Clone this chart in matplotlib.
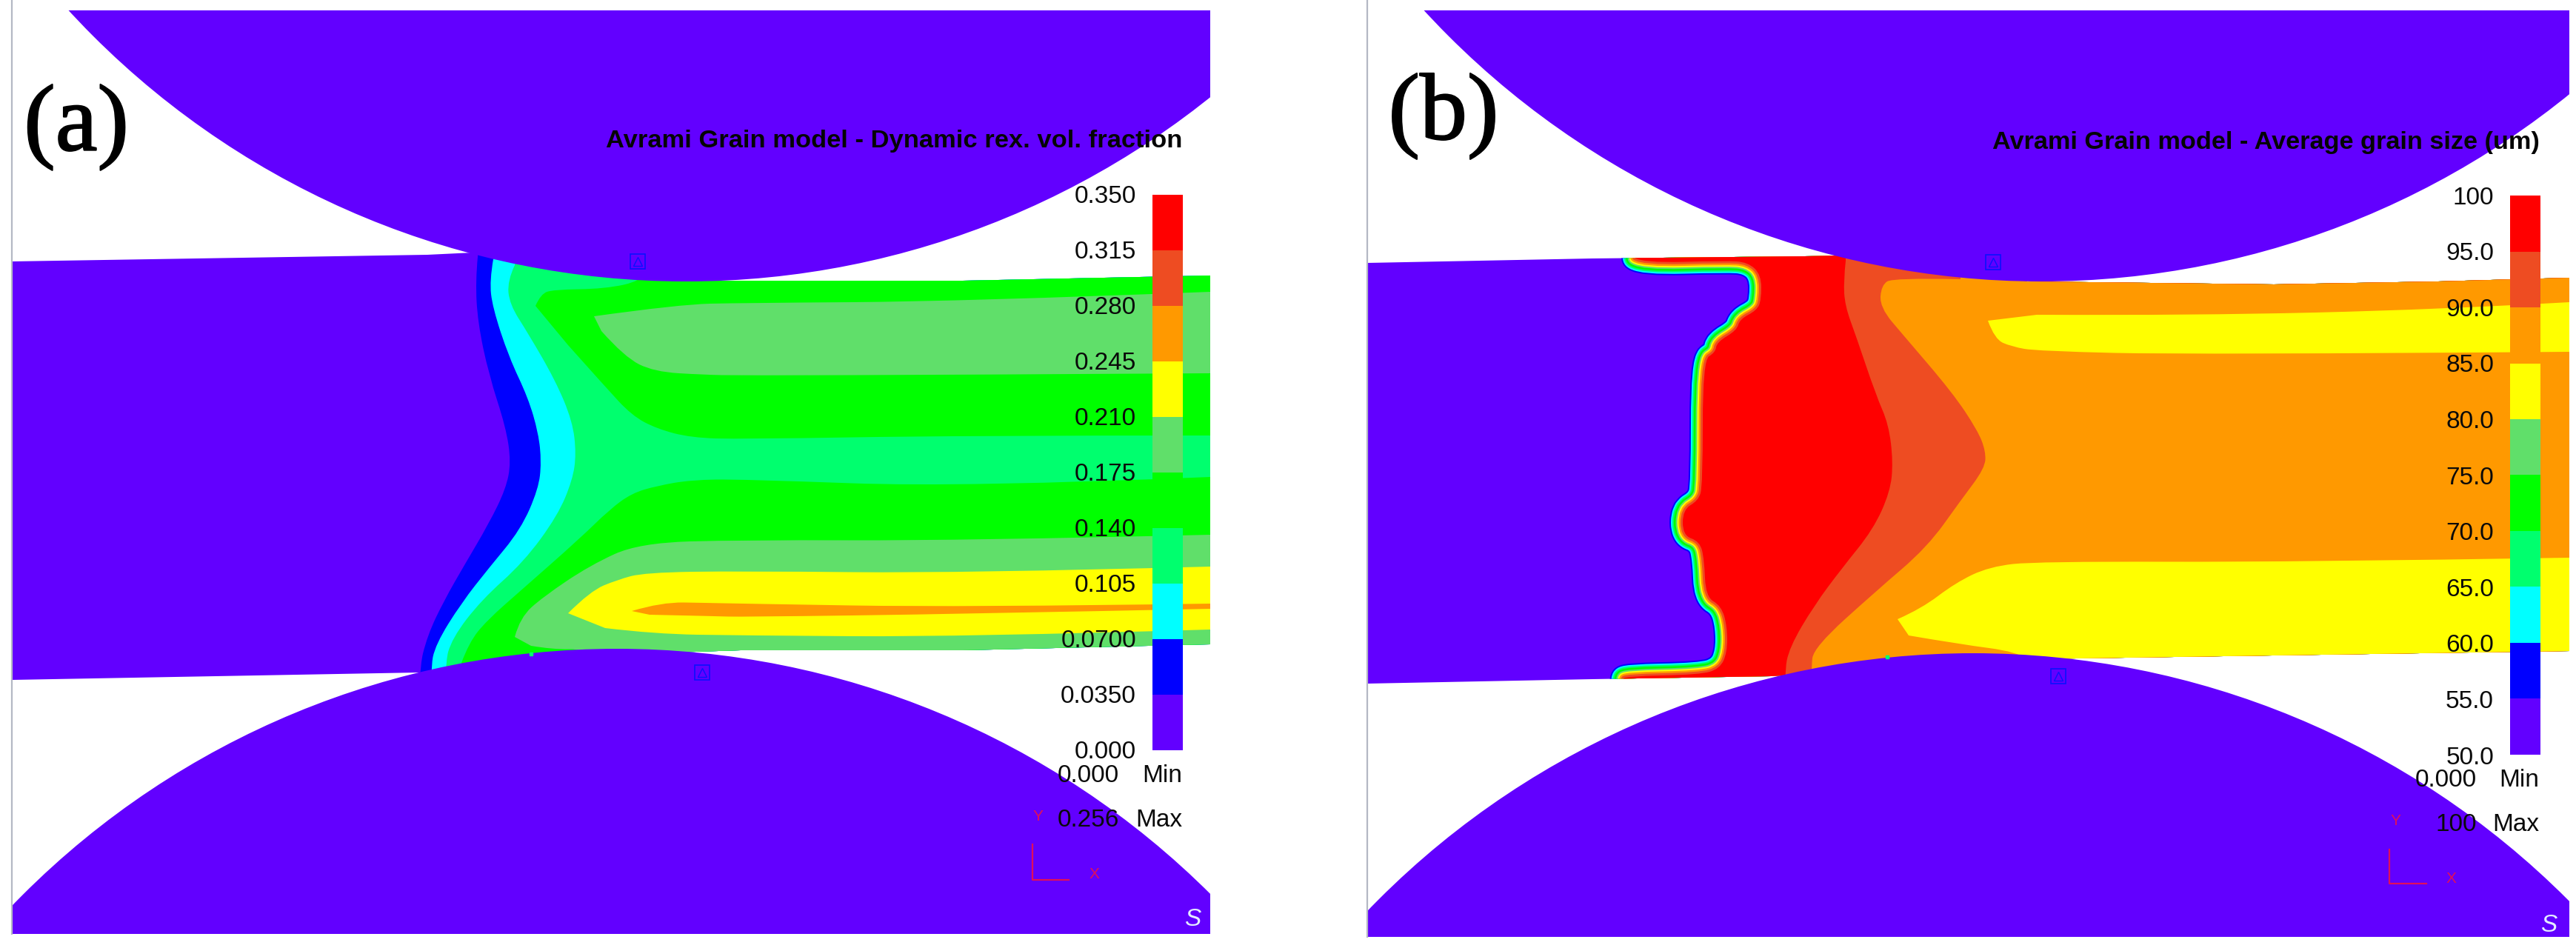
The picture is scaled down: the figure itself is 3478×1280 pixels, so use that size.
import matplotlib

matplotlib.use("Agg")
import matplotlib.patheffects as pe
import matplotlib.pyplot as plt
from matplotlib.patches import Circle, PathPatch, Polygon, Rectangle
from matplotlib.path import Path

# contour levels
LABELS_A = ["0.000", "0.0350", "0.0700", "0.105", "0.140", "0.175", "0.210", "0.245", "0.280", "0.315", "0.350"]
LABELS_B = ["50.0", "55.0", "60.0", "65.0", "70.0", "75.0", "80.0", "85.0", "90.0", "95.0", "100"]
MINMAX_A = ["0.000", "0.256"]
MINMAX_B = ["0.000", "100"]
TITLE_A = "Avrami Grain model - Dynamic rex. vol. fraction"
TITLE_B = "Avrami Grain model - Average grain size (um)"

PURPLE = "#6200ff"
BLUE = "#0000ff"
CYAN = "#00ffff"
SPRING = "#00ff6e"
GREEN = "#00ff00"
LIGHT = "#60df6a"
YELLOW = "#ffff00"
ORANGE = "#ff9900"
TOMATO = "#ee4c22"
RED = "#ff0000"
LEVEL_COLORS = [PURPLE, BLUE, CYAN, SPRING, GREEN, LIGHT, YELLOW, ORANGE, TOMATO, RED]

# outlines, in image pixels
STRIP_A = [(16, 353), (577, 344), (660, 340), (800, 350), (900, 379), (1300, 379), (1634, 372),
           (1634, 870), (1300, 878), (1000, 878), (790, 885), (650, 910), (566, 908), (16, 918)]
BLUE_A = [(645, 347), (642, 379), (645, 435), (660, 506), (683, 577), (690, 624), (683, 660),
          (660, 707), (627, 763), (600, 810), (577, 858), (565, 907)]
CYAN_A = [(666, 350), (661, 379), (665, 415), (687, 482), (713, 537), (727, 585), (731, 624),
          (727, 660), (703, 715), (660, 767), (623, 814), (588, 870), (581, 904)]
SPRING_A = [(695, 358), (685, 379), (688, 411), (713, 450), (750, 514), (773, 569), (778, 613),
            (773, 648), (753, 696), (707, 759), (650, 810), (610, 862), (600, 899)]
GREEN_UP_A = [(723, 413), (730, 397), (747, 391), (817, 390), (867, 379), (867, 360), (1634, 360),
              (1634, 588), (1300, 588), (1000, 593), (933, 591), (887, 579), (853, 561), (817, 522),
              (767, 466)]
GREEN_LOW_A = [(623, 895), (633, 868), (657, 838), (707, 794), (783, 727), (823, 688), (853, 666),
               (887, 656), (933, 648), (1000, 647), (1300, 658), (1634, 644), (1634, 900), (623, 900)]
LIGHT_UP_A = [(802, 427), (917, 411), (1000, 409), (1300, 407), (1634, 394), (1634, 504), (1300, 506),
              (1000, 507), (950, 506), (883, 502), (843, 482), (812, 447)]
LIGHT_LOW_A = [(695, 860), (702, 834), (733, 806), (797, 763), (863, 733), (1000, 729), (1300, 730),
               (1634, 722), (1634, 900), (790, 900), (790, 876), (747, 877), (717, 872)]
YELLOW_A = [(767, 828), (797, 798), (833, 783), (870, 773), (1000, 771), (1300, 774), (1634, 765),
            (1634, 850), (1300, 860), (1000, 858), (883, 856), (817, 848)]
ORANGE_A = [(853, 825), (893, 813), (953, 814), (1000, 815), (1300, 820), (1634, 815),
            (1634, 822), (1300, 829), (1000, 833), (967, 832), (877, 830)]

STRIP_B = [(1846, 355), (2150, 349), (2437, 346), (2487, 345), (2640, 360), (2737, 380), (3070, 384),
           (3292, 380), (3469, 375), (3469, 879), (3200, 883), (2737, 890), (2600, 900), (2391, 913),
           (2150, 917), (1846, 923)]
RED_B = [(2207, 348), (2217, 355), (2330, 352), (2360, 354), (2378, 371), (2378, 405), (2372, 419),
         (2349, 431), (2345, 446), (2318, 462), (2316, 476), (2299, 486), (2299, 656), (2293, 676),
         (2272, 688), (2272, 723), (2295, 731), (2301, 755), (2303, 806), (2324, 818), (2332, 846),
         (2332, 881), (2322, 903), (2295, 911), (2194, 913), (2190, 919)]
TOMATO_B = [(2492, 352), (2489, 379), (2491, 413), (2506, 454), (2533, 534), (2550, 573), (2556, 624),
            (2552, 664), (2529, 715), (2487, 767), (2449, 818), (2416, 874), (2409, 909)]
ORANGE_B = [(2647, 377), (2556, 375), (2540, 385), (2538, 415), (2571, 454), (2636, 530), (2670, 581),
            (2681, 609), (2680, 632), (2647, 676), (2602, 739), (2533, 798), (2449, 874), (2445, 903)]
YELLOW_UP_B = [(2684, 433), (2693, 458), (2716, 468), (2750, 474), (2959, 479), (3469, 475),
               (3469, 408), (3292, 418), (2959, 426), (2750, 425)]
YELLOW_LOW_B = [(2562, 836), (2594, 822), (2640, 787), (2686, 765), (2750, 758), (3100, 759), (3469, 753),
                (3469, 900), (2750, 900), (2724, 880), (2647, 870), (2577, 858)]
# bands hugging the recrystallisation front, cold side first, half widths in px
FRONT_COLORS = [BLUE, CYAN, SPRING, GREEN, LIGHT, YELLOW, ORANGE, TOMATO]
FRONT_OFFSETS = [18, 16, 14, 12, 9.5, 7.5, 5.5, 3]

MARKERS_A = [(861, 353), (948, 908)]
MARKERS_B = [(2691, 354), (2779, 913)]
DOTS = [(717, 883), (2548, 887)]

ROLL_A = {"top": (926, -752, 1132), "bottom": (833, 2011, 1135), "frame": (16, 14, 1618, 1247)}
ROLL_B = {"top": (2756, -752, 1132), "bottom": (2664, 2017, 1135), "frame": (1846, 14, 1623, 1251)}

SANS = "Liberation Sans"
SERIF = "Liberation Serif"
AXIS_RED = "#e0105a"
EDGE_XS = (1634, 1640, 3469, 3480)
EDGE_YS = (300, 1000)


def is_corner(point):
    return point[0] in EDGE_XS or point[1] in EDGE_YS


def smooth_path(points):
    """Round an outline with quadratic curves, keeping its ends and the panel-edge corners."""
    verts = [points[0]]
    codes = [Path.MOVETO]
    last = len(points) - 1
    for i in range(1, last):
        p = points[i]
        nxt = points[i + 1]
        if is_corner(p):
            verts.append(p)
            codes.append(Path.LINETO)
            continue
        end = nxt if is_corner(nxt) or i == last - 1 else ((p[0] + nxt[0]) / 2, (p[1] + nxt[1]) / 2)
        verts += [p, end]
        codes += [Path.CURVE3, Path.CURVE3]
    verts += [points[last], points[0]]
    codes += [Path.LINETO, Path.CLOSEPOLY]
    return Path(verts, codes)


def hot_side(boundary, right):
    first_x = boundary[0][0]
    last_x = boundary[-1][0]
    return boundary + [(last_x, 1000), (right, 1000), (right, 300), (first_x, 300)]


def draw_layers(ax, strip_patch, layers):
    for points, color in layers:
        patch = PathPatch(smooth_path(points), facecolor=color, edgecolor="none", zorder=2)
        ax.add_patch(patch)
        patch.set_clip_path(strip_patch)


def draw_rolls(ax, roll):
    fx, fy, fw, fh = roll["frame"]
    for key in ("top", "bottom"):
        cx, cy, radius = roll[key]
        circle = Circle((cx, cy), radius, facecolor=PURPLE, edgecolor="none", zorder=3)
        ax.add_patch(circle)
        circle.set_clip_path(Rectangle((fx, fy), fw, fh, transform=ax.transData))
    ax.plot([fx, fx], [0, fy + fh], color="#b4b8c4", lw=1.6, zorder=4)


def draw_colorbar(ax, x0, x1, y_top, y_bottom):
    step = (y_bottom - y_top) / len(LEVEL_COLORS)
    for i, color in enumerate(LEVEL_COLORS):
        ax.bar((x0 + x1) / 2, step + 0.5, width=x1 - x0, bottom=y_bottom - (i + 1) * step,
               color=color, linewidth=0, zorder=5)


def draw_annotations(ax, labels, minmax, title, opts):
    n = len(labels) - 1
    for i, label in enumerate(labels):
        y = opts["y0"] + (opts["y1"] - opts["y0"]) * i / n
        ax.text(opts["label_x"], y, label, ha="right", va="center", family=SANS, fontsize=24,
                color="#0a0a0a", zorder=6)
    ax.text(opts["title_x"], opts["title_y"], title, ha="right", va="center", family=SANS,
            fontweight="bold", fontsize=opts["title_size"], color="#050505", zorder=6)
    for value, word, y in zip(minmax, ["Min", "Max"], opts["minmax_y"]):
        ax.text(opts["minmax_x"], y, value, ha="right", va="center", family=SANS, fontsize=24,
                color="#0a0a0a", zorder=6)
        ax.text(opts["word_x"], y, word, ha="right", va="center", family=SANS, fontsize=24,
                color="#0a0a0a", zorder=6)
    lx, ly0, ly1, lx1 = opts["triad"]
    ax.plot([lx, lx, lx1], [ly0, ly1, ly1], color=AXIS_RED, lw=1.6, zorder=6)
    ax.text(*opts["y_mark"], "Y", ha="center", va="center", family=SANS, fontsize=15, color=AXIS_RED, zorder=6)
    ax.text(*opts["x_mark"], "X", ha="center", va="center", family=SANS, fontsize=15, color=AXIS_RED, zorder=6)
    ax.text(*opts["logo"], "S", ha="center", va="center", family=SANS, fontsize=24, style="italic",
            color="#e4ecff", zorder=6)
    letter = ax.text(*opts["letter"][:2], opts["letter"][2], ha="center", va="center", family=SERIF, fontsize=92,
                     color="black", zorder=6)
    letter.set_path_effects([pe.withStroke(linewidth=1.5, foreground="black")])


def draw_markers(ax, points):
    xs = [p[0] for p in points]
    ys = [p[1] for p in points]
    ax.plot(xs, ys, ls="", marker="s", ms=14, mfc="none", mec="#0a10ff", mew=1.2, zorder=5)
    ax.plot(xs, ys, ls="", marker="^", ms=9, mfc="none", mec="#0a10ff", mew=1.0, zorder=5)


def main():
    fig = plt.figure(figsize=(34.78, 12.8), dpi=100, facecolor="white")
    ax = fig.add_axes([0, 0, 1, 1])
    ax.set_xlim(0, 3478)
    ax.set_ylim(1280, 0)
    ax.axis("off")

    # panel (a)
    strip_a = Polygon(STRIP_A, closed=True, facecolor=PURPLE, edgecolor="none", zorder=1)
    ax.add_patch(strip_a)
    draw_layers(ax, strip_a, [
        (hot_side(BLUE_A, 1640), BLUE),
        (hot_side(CYAN_A, 1640), CYAN),
        (hot_side(SPRING_A, 1640), SPRING),
        (GREEN_UP_A, GREEN),
        (GREEN_LOW_A, GREEN),
        (LIGHT_UP_A, LIGHT),
        (LIGHT_LOW_A, LIGHT),
        (YELLOW_A, YELLOW),
        (ORANGE_A, ORANGE),
    ])
    draw_rolls(ax, ROLL_A)
    draw_colorbar(ax, 1556, 1597, 263, 1012)
    draw_markers(ax, MARKERS_A)
    draw_annotations(ax, LABELS_A, MINMAX_A, TITLE_A, {
        "y0": 1016, "y1": 265, "label_x": 1534, "title_x": 1596, "title_y": 191, "title_size": 24.8,
        "minmax_x": 1511, "word_x": 1596, "minmax_y": [1047, 1107], "triad": (1394, 1140, 1188, 1443),
        "y_mark": (1401, 1102), "x_mark": (1477, 1180), "logo": (1610, 1241), "letter": (103, 172, "(a)"),
    })

    # panel (b)
    strip_b = Polygon(STRIP_B, closed=True, facecolor=PURPLE, edgecolor="none", zorder=1)
    ax.add_patch(strip_b)
    hot_region = hot_side(RED_B, 3480)
    for color, offset in zip(FRONT_COLORS, FRONT_OFFSETS):
        band = PathPatch(smooth_path(hot_region), facecolor=color, edgecolor=color, lw=2 * offset * 0.72,
                         joinstyle="round", zorder=2)
        ax.add_patch(band)
        band.set_clip_path(strip_b)
    draw_layers(ax, strip_b, [
        (hot_region, RED),
        (hot_side(TOMATO_B, 3480), TOMATO),
        (hot_side(ORANGE_B, 3480), ORANGE),
        (YELLOW_UP_B, YELLOW),
        (YELLOW_LOW_B, YELLOW),
    ])
    draw_rolls(ax, ROLL_B)
    draw_colorbar(ax, 3389, 3430, 264, 1018)
    draw_markers(ax, MARKERS_B)
    draw_annotations(ax, LABELS_B, MINMAX_B, TITLE_B, {
        "y0": 1023, "y1": 267, "label_x": 3367, "title_x": 3429, "title_y": 192, "title_size": 24.7,
        "minmax_x": 3344, "word_x": 3428, "minmax_y": [1054, 1114], "triad": (3226, 1147, 1193, 3276),
        "y_mark": (3234, 1108), "x_mark": (3309, 1186), "logo": (3441, 1249), "letter": (1949, 157, "(b)"),
    })

    ax.plot([p[0] for p in DOTS], [p[1] for p in DOTS], ls="", marker="s", ms=3.5, color=SPRING, zorder=5)

    fig.savefig("out.png", dpi=100, facecolor="white")


if __name__ == "__main__":
    main()
